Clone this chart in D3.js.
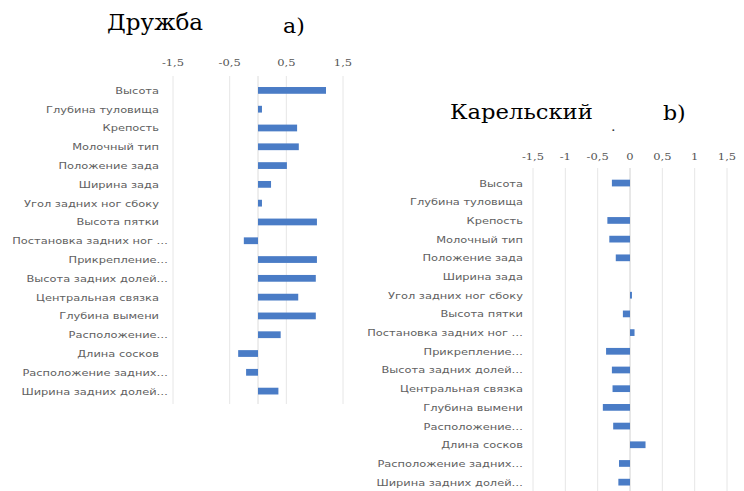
<!DOCTYPE html>
<html><head><meta charset="utf-8">
<script src="https://cdn.jsdelivr.net/npm/d3@7"></script>
<style>body{margin:0;background:#fff}svg{display:block}</style>
</head><body>
<svg id="c" width="744" height="491"></svg>
<script>
const categories = ["Высота","Глубина туловища","Крепость","Молочный тип","Положение зада","Ширина зада","Угол задних ног сбоку","Высота пятки","Постановка задних ног …","Прикрепление…","Высота задних долей…","Центральная связка","Глубина вымени","Расположение…","Длина сосков","Расположение задних…","Ширина задних долей…"];
const druzhbaValues = [1.2,0.07,0.69,0.72,0.51,0.23,0.07,1.04,-0.25,1.04,1.02,0.71,1.02,0.4,-0.35,-0.21,0.36];
const karelValues = [-0.28,0,-0.35,-0.32,-0.22,0,0.03,-0.11,0.07,-0.37,-0.28,-0.27,-0.42,-0.26,0.24,-0.17,-0.18];
const ticksA = [-1.5,-0.5,0.5,1.5];
const tickLabelsA = ["-1,5","-0,5","0,5","1,5"];
const ticksB = [-1.5,-1,-0.5,0,0.5,1,1.5];
const tickLabelsB = ["-1,5","-1","-0,5","0","0,5","1","1,5"];

const SERIF = "DejaVu Serif";
const SANS = "DejaVu Sans";
const svg = d3.select("#c");
const SX = 1.2;
function stext(g, x, y, str, opts){
  const t = g.append("text").attr("transform",`translate(${x},${y}) scale(${opts.sx||SX},1)`)
    .attr("text-anchor",opts.anchor||"start").attr("font-family",opts.family)
    .attr("font-size",opts.size).attr("fill",opts.fill||"#595959").text(str);
  return t;
}

function panel(cfg){
  const g = svg.append("g");
  const x = d3.scaleLinear().domain([-1.5,1.5]).range([cfg.x0,cfg.x1]);
  const y = d3.scaleBand().domain(categories).range([cfg.y0,cfg.y1]).paddingInner(0.64).paddingOuter(0.32);
  g.selectAll("line.grid").data(cfg.ticks).join("line")
    .attr("x1",d=>x(d)).attr("x2",d=>x(d)).attr("y1",cfg.gy0).attr("y2",cfg.gy1)
    .attr("stroke","#e6e6e6").attr("stroke-width",1);
  g.append("line").attr("x1",x(0)).attr("x2",x(0)).attr("y1",cfg.gy0).attr("y2",cfg.gy1)
    .attr("stroke","#dcdcdc").attr("stroke-width",1);
  cfg.ticks.forEach((t,i)=>{
    stext(g, x(t), cfg.tickY, cfg.tickLabels[i], {anchor:"middle",family:SERIF,size:10,sx:1.15,fill:"#555"});
  });
  g.selectAll("rect.bar").data(cfg.values).join("rect")
    .attr("x",d=>x(Math.min(0,d))).attr("width",d=>Math.abs(x(d)-x(0)))
    .attr("y",(d,i)=>y(categories[i])).attr("height",y.bandwidth())
    .attr("fill","#4a7cc6");
  categories.forEach(c=>{
    const hang = c.endsWith("…") ? cfg.hang : 0;
    stext(g, cfg.labelX + hang, y(c)+y.bandwidth()/2+3.5, c, {anchor:"end",family:SANS,size:9,sx:1.27,fill:"#606060"});
  });
  return {x,y};
}

panel({x0:173,x1:343,y0:81,y1:400.5,gy0:76,gy1:404,ticks:ticksA,tickLabels:tickLabelsA,values:druzhbaValues,tickY:66,labelX:159,hang:9});
panel({x0:533,x1:727,y0:173.7,y1:491.5,gy0:168,gy1:491,ticks:ticksB,tickLabels:tickLabelsB,values:karelValues,tickY:160,labelX:523,hang:0});

stext(svg,107,30,"Дружба",{family:SERIF,size:22,sx:1.05,fill:"#000"});
stext(svg,283,33,"а)",{family:SERIF,size:21,sx:1.05,fill:"#000"});
stext(svg,450,119,"Карельский",{family:SERIF,size:21,sx:1.08,fill:"#000"});
stext(svg,611,131,".",{family:SERIF,size:12,fill:"#333"});
stext(svg,663,120,"b)",{family:SERIF,size:21,sx:1.05,fill:"#000"});
</script>
</body></html>
